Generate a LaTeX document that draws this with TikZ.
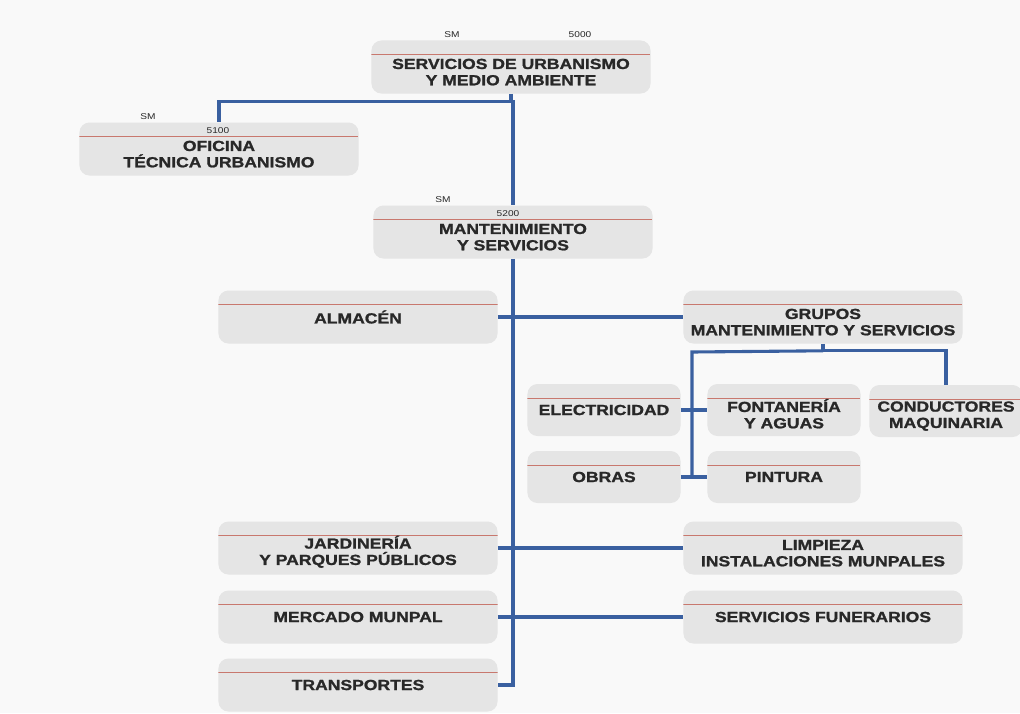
\documentclass[tikz,border=0pt]{standalone}
\usepackage{fontspec}
\setmainfont{Liberation Sans}[FakeStretch=1.2, BoldFeatures={FakeBold=1.3}]
\definecolor{fondohoja}{RGB}{249,249,249}
\definecolor{fondocaja}{RGB}{229,229,229}
\definecolor{textocaja}{RGB}{40,40,40}
\definecolor{lineaazul}{RGB}{58,96,160}
\definecolor{linearoja}{RGB}{200,120,110}
\newcommand{\bajar}{\rule{0pt}{14.5pt}}
\tikzset{
  unidad/.style={
    fill=fondocaja, rounded corners=0.25cm, align=center, text=textocaja,
    font=\bfseries\fontsize{10.4}{11.6}\selectfont, inner sep=0pt,
    path picture={
      \draw[linearoja, line width=0.7pt]
        ([yshift=-0.35cm]path picture bounding box.north west) --
        ([yshift=-0.35cm]path picture bounding box.north east);
    }
  },
  unidad ancha/.style={unidad, minimum width=6.975cm, minimum height=1.325cm},
  unidad corta/.style={unidad, minimum width=3.825cm, minimum height=1.3cm},
  codigo/.style={font=\fontsize{6}{7}\selectfont, text=textocaja, inner sep=0pt},
  enlace/.style={draw=lineaazul, line width=2.2pt}
}

\begin{document}
\begin{tikzpicture}[x=0.025cm, y=-0.025cm]
  \path[use as bounding box, fill=fondohoja] (0,0) rectangle (1020,713);

  \node[unidad ancha] (urb) at (511,67) {\bajar SERVICIOS DE URBANISMO\\Y MEDIO AMBIENTE};
  \node[unidad ancha] (ofi) at (219,149) {\bajar OFICINA\\TÉCNICA URBANISMO};
  \node[unidad ancha] (mant) at (513,232) {\bajar MANTENIMIENTO\\Y SERVICIOS};
  \node[unidad ancha] (alm) at (358,317) {ALMACÉN};
  \node[unidad ancha] (grp) at (823,317) {\bajar GRUPOS\\MANTENIMIENTO Y SERVICIOS};
  \node[unidad corta] (ele) at (604,410) {ELECTRICIDAD};
  \node[unidad corta] (fon) at (784,410) {\bajar FONTANERÍA\\Y AGUAS};
  \node[unidad corta] (con) at (946,411) {\bajar CONDUCTORES\\MAQUINARIA};
  \node[unidad corta] (obr) at (604,477) {OBRAS};
  \node[unidad corta] (pin) at (784,477) {PINTURA};
  \node[unidad ancha] (jar) at (358,548) {\bajar JARDINERÍA\\Y PARQUES PÚBLICOS};
  \node[unidad ancha] (lim) at (823,548) {\bajar LIMPIEZA\\INSTALACIONES MUNPALES};
  \node[unidad ancha] (mer) at (358,617) {MERCADO MUNPAL};
  \node[unidad ancha] (fun) at (823,617) {SERVICIOS FUNERARIOS};
  \node[unidad ancha] (tra) at (358,685) {TRANSPORTES};

  \node[codigo] (urb-sm) at (452,35) {SM};
  \node[codigo] (urb-num) at (580,35) {5000};
  \node[codigo] (ofi-sm) at (148,117) {SM};
  \node[codigo] (ofi-num) at (218,131) {5100};
  \node[codigo] (mant-sm) at (443,200) {SM};
  \node[codigo] (mant-num) at (508,214) {5200};

  \draw[enlace] (urb.south) -- ++(0,8) coordinate (u1) -| (ofi.north);
  \draw[enlace] (u1) -| (mant.north);
  \draw[enlace] (mant.south) |- (tra.east);
  \draw[enlace] (alm.east) -- (grp.west);
  \draw[enlace] (jar.east) -- (lim.west);
  \draw[enlace] (mer.east) -- (fun.west);
  \draw[enlace] (grp.south) -- ++(0,7) coordinate (g1) -| (con.north);
  \coordinate (g2) at (692,352);
  \draw[enlace] (g1) -- (g2) -- (g2 |- obr.east);
  \draw[enlace] (ele.east) -- (fon.west);
  \draw[enlace] (obr.east) -- (pin.west);
\end{tikzpicture}
\end{document}
